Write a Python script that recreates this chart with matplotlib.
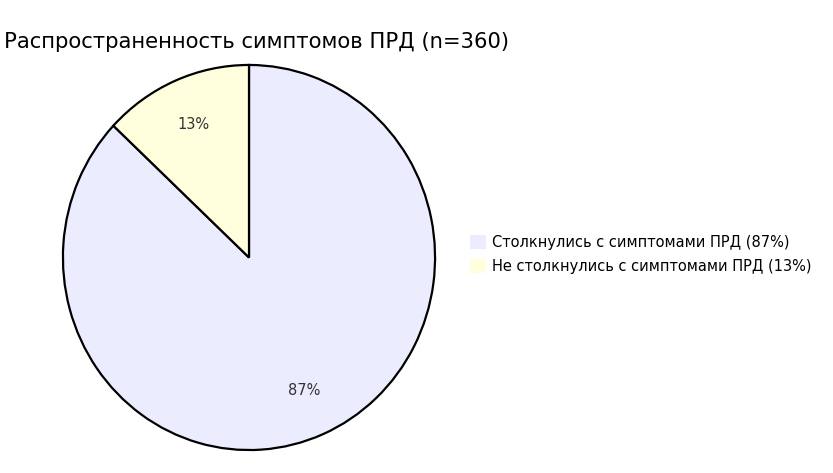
import matplotlib
matplotlib.use("Agg")
import matplotlib.pyplot as plt
from matplotlib.patches import Patch

title = "Распространенность симптомов ПРД (n=360)"
categories = ["Столкнулись с симптомами ПРД", "Не столкнулись с симптомами ПРД"]
values = [87, 13]
colors = ["#ECECFF", "#FFFFDE"]

plt.rcParams['font.family'] = ['DejaVu Sans']

W, H = 833, 473
fig = plt.figure(figsize=(W / 100, H / 100), dpi=100)

cx, cy, rx, ry = 249, 257.5, 187, 193.5
ax = fig.add_axes([(cx - rx) / W, 1 - (cy + ry) / H, 2 * rx / W, 2 * ry / H])
wedges, texts, autotexts = ax.pie(
    values, colors=colors, startangle=90, counterclock=False,
    autopct=lambda p: f"{p:.0f}%", pctdistance=0.75,
    wedgeprops=dict(edgecolor="black", linewidth=1.6),
    textprops=dict(color="#333333", fontsize=10.5),
)
ax.set_aspect('auto')
ax.set_xlim(-1.005, 1.005)
ax.set_ylim(-1.005, 1.005)
ax.axis('off')

fig.text(257 / W, 1 - 42 / H, title, ha='center', va='center', fontsize=15.2, color='black')

handles = [Patch(facecolor=c, edgecolor='none') for c in colors]
labels = [f"{c} ({v}%)" for c, v in zip(categories, values)]
fig.legend(handles, labels, loc='upper left', bbox_to_anchor=(470 / W, 1 - 235 / H),
           frameon=False, fontsize=10.5, handlelength=1.1, handleheight=1.1,
           handletextpad=0.4, labelspacing=0.6, borderaxespad=0, borderpad=0)

fig.savefig("out.png", dpi=100)
